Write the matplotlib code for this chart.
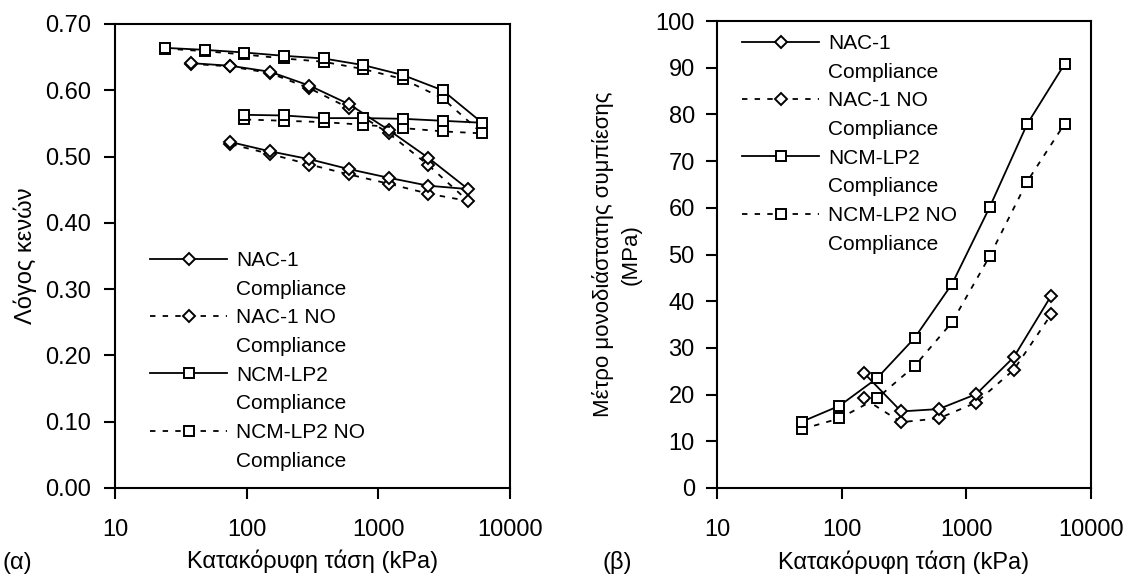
import matplotlib
matplotlib.use("Agg")
import matplotlib.pyplot as plt
from matplotlib.lines import Line2D
from matplotlib.ticker import FixedLocator, FixedFormatter, NullLocator

plt.rcParams['font.family'] = ['Liberation Sans', 'DejaVu Sans']

# ---------------- data: left plot (void ratio) ----------------
nac_stress_e = [37.5, 75, 150, 300, 600, 1200, 2400, 4800, 2400, 1200, 600, 300, 150, 75]
nac_e_comp = [0.641, 0.637, 0.628, 0.607, 0.579, 0.540, 0.498, 0.451,
              0.456, 0.468, 0.481, 0.496, 0.508, 0.522]
nac_e_nocomp = [0.640, 0.636, 0.626, 0.603, 0.573, 0.535, 0.487, 0.433,
                0.444, 0.459, 0.473, 0.488, 0.504, 0.519]

ncm_stress_e = [24, 48, 96, 192, 384, 768, 1536, 3072, 6144, 3072, 1536, 768, 384, 192, 96]
ncm_e_comp = [0.664, 0.661, 0.657, 0.652, 0.648, 0.638, 0.623, 0.600, 0.551,
              0.554, 0.557, 0.558, 0.558, 0.562, 0.563]
ncm_e_nocomp = [0.663, 0.659, 0.654, 0.648, 0.643, 0.632, 0.617, 0.588, 0.535,
                0.538, 0.543, 0.548, 0.552, 0.554, 0.556]

# ---------------- data: right plot (constrained modulus, MPa) ----------------
nac_stress_m = [150, 300, 600, 1200, 2400, 4800]
nac_m_comp = [24.7, 16.4, 16.9, 20.1, 28.0, 41.2]
nac_m_nocomp = [19.2, 14.1, 14.9, 18.3, 25.3, 37.2]

ncm_stress_m = [48, 96, 192, 384, 768, 1536, 3072, 6144]
ncm_m_comp = [14.2, 17.6, 23.5, 32.1, 43.7, 60.1, 77.9, 90.8]
ncm_m_nocomp = [12.6, 14.9, 19.2, 26.1, 35.5, 49.6, 65.6, 78.0]

x_ticks = [10, 100, 1000, 10000]
x_ticklabels = ["10", "100", "1000", "10000"]
left_yticks = [0.0, 0.1, 0.2, 0.3, 0.4, 0.5, 0.6, 0.7]
right_yticks = [0, 10, 20, 30, 40, 50, 60, 70, 80, 90, 100]

legend_labels = ["NAC-1", "Compliance", "NAC-1 NO", "Compliance",
                 "NCM-LP2", "Compliance", "NCM-LP2 NO", "Compliance"]

xlabel = "Κατακόρυφη τάση (kPa)"
left_ylabel = "Λόγος κενών"
right_ylabel = "Μέτρο μονοδιάστατης συμπίεσης\n(MPa)"

# ---------------- figure ----------------
W, H = 1128, 576
fig = plt.figure(figsize=(W / 100, H / 100), dpi=100)

def px_axes(x0, x1, ytop, ybot):
    return fig.add_axes([x0 / W, 1 - ybot / H, (x1 - x0) / W, (ybot - ytop) / H])

axL = px_axes(115, 510, 24, 488)
axR = px_axes(717, 1091, 21, 488)

LW = 1.3
DASH = (0, (3, 4))
dkw = dict(marker='D', ms=6.6, mfc='white', mec='black', mew=1.4, color='black', lw=LW)
skw = dict(marker='s', ms=7.4, mfc='white', mec='black', mew=1.4, color='black', lw=LW)

# left
axL.plot(nac_stress_e, nac_e_nocomp, ls=DASH, **dkw)
axL.plot(nac_stress_e, nac_e_comp, ls='-', **dkw)
axL.plot(ncm_stress_e, ncm_e_nocomp, ls=DASH, **skw)
axL.plot(ncm_stress_e, ncm_e_comp, ls='-', **skw)

# right
axR.plot(nac_stress_m, nac_m_nocomp, ls=DASH, **dkw)
axR.plot(nac_stress_m, nac_m_comp, ls='-', **dkw)
axR.plot(ncm_stress_m, ncm_m_nocomp, ls=DASH, **skw)
axR.plot(ncm_stress_m, ncm_m_comp, ls='-', **skw)

TICK_FS = 17
LABEL_FS = 17
for ax in (axL, axR):
    ax.set_xscale('log')
    ax.set_xlim(10, 10000)
    ax.xaxis.set_major_locator(FixedLocator(x_ticks))
    ax.xaxis.set_major_formatter(FixedFormatter(x_ticklabels))
    ax.xaxis.set_minor_locator(NullLocator())
    for s in ax.spines.values():
        s.set_linewidth(1.5)
        s.set_color('black')
    ax.tick_params(axis='both', which='major', direction='out', length=8, width=1.5,
                   labelsize=TICK_FS, colors='black')
    ax.tick_params(axis='x', pad=14)
    ax.set_xlabel(xlabel, fontsize=LABEL_FS)
    ax.xaxis.set_label_coords(0.5, -0.133)

axL.set_ylim(0, 0.7)
axL.set_yticks(left_yticks)
axL.set_yticklabels([f"{v:.2f}" for v in left_yticks])
axL.tick_params(axis='y', pad=9)
axL.set_ylabel(left_ylabel, fontsize=LABEL_FS)
axL.yaxis.set_label_coords((37 - 115) / 395, 0.5)

axR.set_ylim(0, 100)
axR.set_yticks(right_yticks)
axR.set_yticklabels([str(v) for v in right_yticks])
axR.tick_params(axis='y', pad=8)
axR.set_ylabel(right_ylabel, fontsize=16, linespacing=1.45)
axR.yaxis.set_label_coords((642 - 717) / 374, 0.5)

# legends
def make_handles():
    h_nac = Line2D([], [], ls='-', **dkw)
    h_nac_no = Line2D([], [], ls=DASH, **dkw)
    h_ncm = Line2D([], [], ls='-', **skw)
    h_ncm_no = Line2D([], [], ls=DASH, **skw)
    blank = lambda: Line2D([], [], ls='none', marker=None)
    return [h_nac, blank(), h_nac_no, blank(), h_ncm, blank(), h_ncm_no, blank()]

LEG_FS = 15
def add_legend(ax, x_px, ytop_px):
    leg = ax.legend(make_handles(), legend_labels, loc='upper left',
                    bbox_to_anchor=(x_px / W, 1 - ytop_px / H),
                    bbox_transform=fig.transFigure, frameon=False,
                    fontsize=LEG_FS, handlelength=3.7, handletextpad=0.45,
                    labelspacing=0.465, borderpad=0, borderaxespad=0, numpoints=1)
    return leg

add_legend(axL, 150, 251)
add_legend(axR, 742, 34)

fig.text(2 / W, 1 - 563 / H, "(α)", fontsize=LABEL_FS, va='center', ha='left')
fig.text(602 / W, 1 - 563 / H, "(β)", fontsize=LABEL_FS, va='center', ha='left')

fig.savefig("out.png", dpi=100, facecolor='white')
